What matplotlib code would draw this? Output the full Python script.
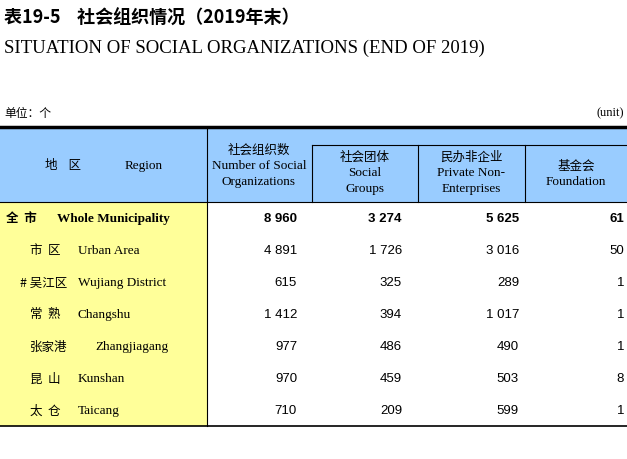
import matplotlib.pyplot as plt
from matplotlib.patches import Rectangle

CJK = ['Noto Sans CJK SC', 'DejaVu Sans']
SERIF = ['Liberation Serif', 'Noto Sans CJK SC']
SANS = ['Liberation Sans', 'DejaVu Sans']

regions_cn = ['全  市', '市  区', '# 吴江区', '常  熟', '张家港', '昆  山', '太  仓']
regions_en = ['Whole Municipality', 'Urban Area', 'Wujiang District', 'Changshu',
              'Zhangjiagang', 'Kunshan', 'Taicang']
total = [8960, 4891, 615, 1412, 977, 970, 710]
social_groups = [3274, 1726, 325, 394, 486, 459, 209]
private_non = [5625, 3016, 289, 1017, 490, 503, 599]
foundation = [61, 50, 1, 1, 1, 8, 1]


def fmt(v):
    return f'{v:,}'.replace(',', ' ')


fig = plt.figure(figsize=(6.27, 4.6), dpi=100)
ax = fig.add_axes([0, 0, 1, 1])
ax.set_xlim(0, 627)
ax.set_ylim(460, 0)
ax.axis('off')

ax.text(4, 18, '表19-5    社会组织情况（2019年末）', family=CJK, fontsize=13,
        fontweight='bold', va='center')
ax.text(4, 48, 'SITUATION OF SOCIAL ORGANIZATIONS (END OF 2019)', family=SERIF,
        fontsize=13.5, va='center')
ax.text(4, 113, '单位：个', family=CJK, fontsize=8.5, va='center')
ax.text(624, 113, '(unit)', family=SERIF, fontsize=9, va='center', ha='right')

top, head_bot, row_h = 128, 203, 32
n = len(total)
bottom = head_bot + n * row_h
cols = [0, 207, 312, 418, 525, 627]

ax.add_patch(Rectangle((0, top), 627, head_bot - top, color='#99CCFF', lw=0))
ax.add_patch(Rectangle((0, head_bot), 207, bottom - head_bot, color='#FFFF99', lw=0))

ax.plot([0, 627], [top, top], color='black', lw=2.5)
ax.plot([0, 627], [head_bot, head_bot], color='black', lw=0.8)
ax.plot([0, 627], [bottom, bottom], color='black', lw=1.2)
ax.plot([312, 627], [146, 146], color='black', lw=0.8)
ax.plot([207, 207], [top, bottom], color='black', lw=0.8)
for x in cols[2:5]:
    ax.plot([x, x], [146, head_bot], color='black', lw=0.8)

ax.text(45, 166, '地    区', family=CJK, fontsize=9, va='center')
ax.text(125, 166, 'Region', family=SERIF, fontsize=9.5, va='center')
headers = [
    (259, ['社会组织数', 'Number of Social', 'Organizations'], 150),
    (365, ['社会团体', 'Social', 'Groups'], 157),
    (471, ['民办非企业', 'Private Non-', 'Enterprises'], 157),
    (576, ['基金会', 'Foundation'], 166),
]
for cx, lines, y0 in headers:
    for i, s in enumerate(lines):
        fam = CJK if i == 0 else SERIF
        ax.text(cx, y0 + i * 16, s, family=fam, fontsize=9 if i == 0 else 9.5,
                ha='center', va='center')

for r in range(n):
    y = head_bot + r * row_h + 16
    bold = 'bold' if r == 0 else 'normal'
    cn = regions_cn[r]
    cx = 6 if r == 0 else (20 if cn.startswith('#') else 30)
    ax.text(cx, y, cn, family=CJK, fontsize=9, va='center', fontweight=bold)
    ex = 57 if r == 0 else (78 if r != 4 else 95)
    ax.text(ex, y, regions_en[r], family=SERIF, fontsize=9.5, va='center', fontweight=bold)
    vals = [total[r], social_groups[r], private_non[r], foundation[r]]
    for x, v in zip([297, 402, 519, 624], vals):
        ax.text(x, y, fmt(v), family=SANS, fontsize=9.5, ha='right', va='center',
                fontweight=bold)

fig.savefig('out.png', dpi=100)
